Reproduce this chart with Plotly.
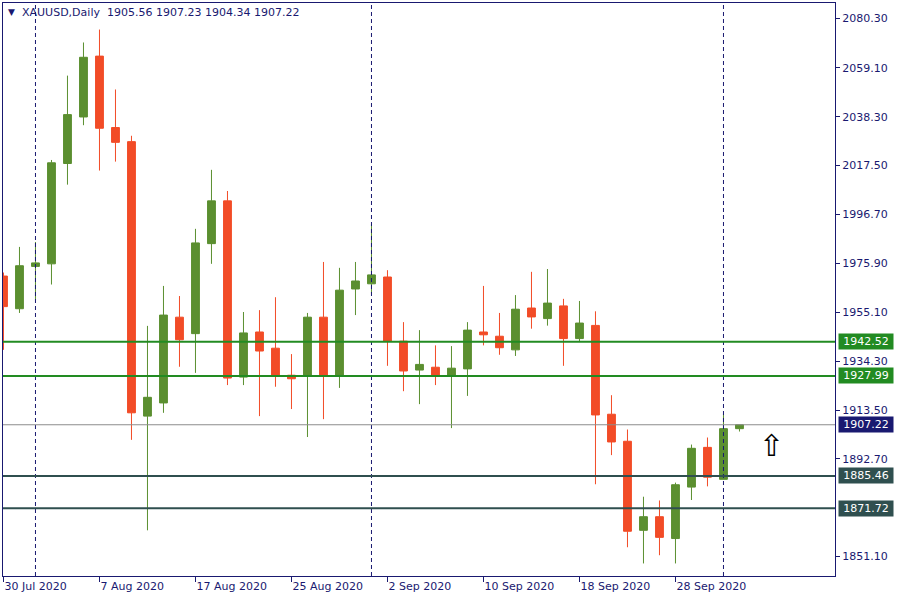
import plotly.graph_objects as go

dates = ["2020-07-30", "2020-07-31", "2020-08-03", "2020-08-04", "2020-08-05", "2020-08-06", "2020-08-07",
         "2020-08-10", "2020-08-11", "2020-08-12", "2020-08-13", "2020-08-14", "2020-08-17", "2020-08-18",
         "2020-08-19", "2020-08-20", "2020-08-21", "2020-08-24", "2020-08-25", "2020-08-26", "2020-08-27",
         "2020-08-28", "2020-08-31", "2020-09-01", "2020-09-02", "2020-09-03", "2020-09-04", "2020-09-07",
         "2020-09-08", "2020-09-09", "2020-09-10", "2020-09-11", "2020-09-14", "2020-09-15", "2020-09-16",
         "2020-09-17", "2020-09-18", "2020-09-21", "2020-09-22", "2020-09-23", "2020-09-24", "2020-09-25",
         "2020-09-28", "2020-09-29", "2020-09-30", "2020-10-01", "2020-10-02"]

opens = [1970.5, 1956.6, 1974.6, 1975.7, 2018.4, 2038.2, 2064.1, 2033.7, 2027.7, 1910.9,
         1916.5, 1953.0, 1946.0, 1984.3, 2002.5, 1927.5, 1946.7, 1939.8, 1928.3, 1928.3,
         1953.0, 1928.3, 1965.0, 1967.2, 1970.1, 1942.8, 1930.5, 1931.7, 1928.3, 1931.0,
         1946.7, 1944.9, 1939.1, 1956.9, 1952.4, 1957.8, 1943.9, 1949.5, 1911.7, 1900.2,
         1862.3, 1868.1, 1858.8, 1880.7, 1897.6, 1884.0, 1905.56]
highs = [1972.0, 1982.9, 1985.0, 2019.9, 2055.8, 2069.9, 2075.4, 2049.9, 2030.2, 1949.3,
         1966.3, 1962.0, 1990.6, 2015.7, 2006.7, 1955.2, 1956.0, 1961.5, 1937.3, 1954.8,
         1976.5, 1974.0, 1976.5, 1992.7, 1973.0, 1950.9, 1947.5, 1941.0, 1940.7, 1950.9,
         1966.3, 1954.8, 1962.4, 1972.3, 1973.5, 1960.8, 1959.9, 1955.5, 1919.8, 1905.2,
         1876.6, 1875.0, 1882.6, 1898.8, 1901.8, 1911.7, 1907.23]
lows = [1939.1, 1954.8, 1960.5, 1966.9, 2009.4, 2034.7, 2015.4, 2019.2, 1900.8, 1862.3,
        1912.3, 1931.9, 1929.3, 1975.7, 1924.1, 1924.1, 1910.9, 1923.4, 1913.9, 1902.0,
        1909.6, 1922.9, 1953.9, 1963.0, 1932.3, 1921.5, 1916.0, 1924.1, 1905.8, 1919.5,
        1941.0, 1937.0, 1936.5, 1948.1, 1949.4, 1932.3, 1942.8, 1881.9, 1894.3, 1855.1,
        1848.2, 1851.7, 1848.2, 1875.2, 1881.0, 1884.0, 1904.34]
closes = [1957.5, 1974.9, 1976.1, 2018.7, 2039.2, 2063.6, 2033.4, 2027.4, 1912.3, 1918.9,
          1953.9, 1943.4, 1984.6, 2002.5, 1927.1, 1946.3, 1938.6, 1927.8, 1926.8, 1953.0,
          1927.8, 1964.5, 1968.4, 1971.0, 1942.8, 1930.1, 1932.9, 1927.8, 1931.3, 1947.5,
          1945.5, 1940.0, 1956.4, 1953.1, 1959.0, 1943.9, 1950.5, 1911.4, 1899.9, 1861.9,
          1868.1, 1859.3, 1881.7, 1897.2, 1884.9, 1905.56, 1907.22]

tick_dates = ["2020-07-30", "2020-08-07", "2020-08-17", "2020-08-25", "2020-09-02",
              "2020-09-10", "2020-09-18", "2020-09-28"]
tick_labels = ["30 Jul 2020", "7 Aug 2020", "17 Aug 2020", "25 Aug 2020", "2 Sep 2020",
               "10 Sep 2020", "18 Sep 2020", "28 Sep 2020"]

price_ticks = [2080.30, 2059.10, 2038.30, 2017.50, 1996.70, 1975.90, 1955.10,
               1934.30, 1913.50, 1892.70, 1851.10]

separator_dates = ["2020-08-03", "2020-09-01", "2020-10-01"]

level_prices = [1942.52, 1927.99, 1885.46, 1871.72]
level_colors = ["#228B22", "#228B22", "#2F4F4F", "#2F4F4F"]
current_price = 1907.22

title_text = "XAUUSD,Daily\u00a0\u00a01905.56 1907.23 1904.34 1907.22"

NAVY = "#191970"
GREEN = "#5B8F30"
RED = "#F24C27"

fig = go.Figure()
fig.add_trace(go.Candlestick(
    x=dates, open=opens, high=highs, low=lows, close=closes,
    increasing=dict(line=dict(color=GREEN, width=1), fillcolor=GREEN),
    decreasing=dict(line=dict(color=RED, width=1), fillcolor=RED),
    whiskerwidth=0, hoverinfo="skip", showlegend=False,
))

shapes = []
for d in separator_dates:
    shapes.append(dict(type="line", xref="x", yref="paper", x0=d, x1=d, y0=0, y1=1,
                       line=dict(color=NAVY, width=1, dash="4px,3px"), layer="above"))
for p, c in zip(level_prices, level_colors):
    shapes.append(dict(type="line", xref="paper", yref="y", x0=0, x1=1, y0=p, y1=p,
                       line=dict(color=c, width=2), layer="above"))
shapes.append(dict(type="line", xref="paper", yref="y", x0=0, x1=1, y0=current_price, y1=current_price,
                   line=dict(color="#8C8C8C", width=1), layer="above"))

annotations = []
for p, c in zip(level_prices + [current_price], level_colors + [NAVY]):
    annotations.append(dict(xref="paper", yref="y", x=1, y=p, xanchor="left", yanchor="middle",
                            xshift=3, text=f"{p:.2f}", showarrow=False, bgcolor=c,
                            font=dict(family="DejaVu Sans", size=11, color="white"),
                            borderpad=1, width=52, align="center"))
annotations.append(dict(xref="paper", yref="paper", x=0, y=1, xanchor="left", yanchor="middle",
                        xshift=3, yshift=-9, text="\u25BC", showarrow=False,
                        font=dict(family="DejaVu Sans", size=9, color=NAVY)))
annotations.append(dict(xref="paper", yref="paper", x=0, y=1, xanchor="left", yanchor="middle",
                        xshift=17, yshift=-9, text=title_text, showarrow=False,
                        font=dict(family="DejaVu Sans", size=11, color=NAVY)))
annotations.append(dict(xref="x", yref="y", x=47.97, y=1898.6, xanchor="center", yanchor="middle",
                        text="\u21E7", showarrow=False,
                        font=dict(family="DejaVu Sans", size=30, color="black")))

fig.update_layout(
    width=900, height=600,
    margin=dict(l=3, r=65, t=3, b=24),
    paper_bgcolor="white", plot_bgcolor="white",
    showlegend=False,
    shapes=shapes, annotations=annotations,
    boxgap=0.3,
    xaxis=dict(type="category", range=[-0.03, 51.97], rangeslider=dict(visible=False),
               tickvals=tick_dates, ticktext=tick_labels, ticks="outside", ticklen=5,
               tickcolor=NAVY, ticklabelposition="outside right",
               showgrid=False, zeroline=False, showline=True, linecolor=NAVY, linewidth=1,
               mirror=True, tickfont=dict(family="DejaVu Sans", size=11, color=NAVY)),
    yaxis=dict(side="right", range=[1842.86, 2086.7], tickvals=price_ticks,
               ticktext=[f"{v:.2f}" for v in price_ticks], ticks="outside", ticklen=4,
               tickcolor=NAVY, showgrid=False, zeroline=False, showline=True,
               linecolor=NAVY, linewidth=1, mirror=True,
               tickfont=dict(family="DejaVu Sans", size=11, color=NAVY)),
)

fig.write_html("out.html", config={"displayModeBar": False},
               post_script="document.body.style.margin='0px';")
